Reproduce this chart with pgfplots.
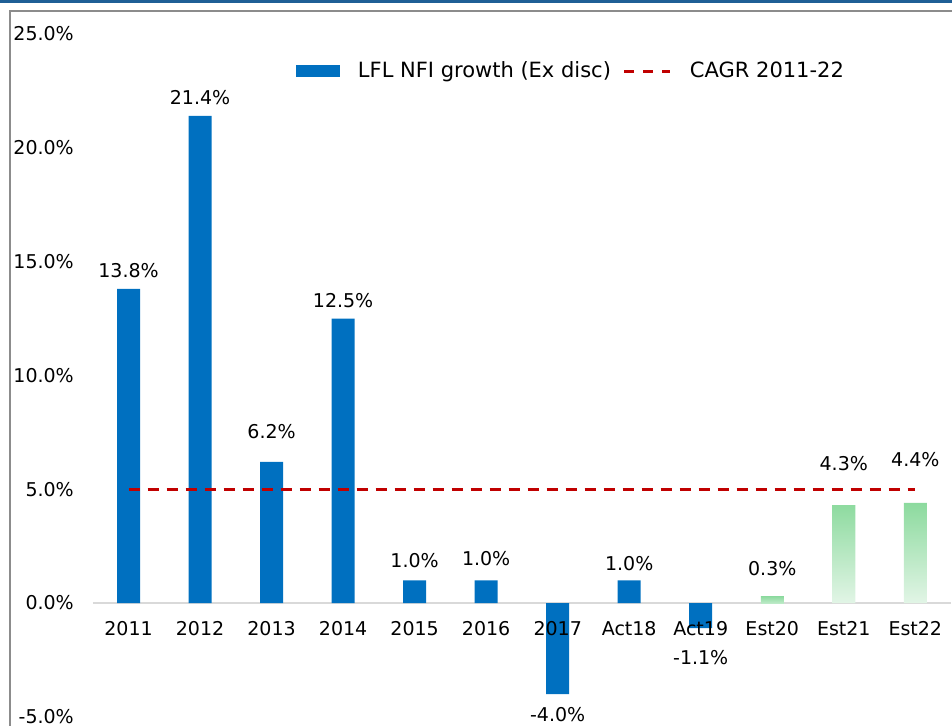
\documentclass[border=0pt]{standalone}
\usepackage{pgfplots}
\pgfplotsset{compat=1.18}
\usepackage{pgfplotstable}
\usetikzlibrary{calc}
\usepackage{fontspec}
\setmainfont{DejaVu Sans}
\definecolor{barblue}{HTML}{0070C0}
\definecolor{cagr}{HTML}{C00000}
\definecolor{gtop}{HTML}{8CDA9E}
\definecolor{gbot}{HTML}{E2F5E6}
\definecolor{gmid}{HTML}{BDEAC7}
\definecolor{framegray}{HTML}{8C8C8C}
\definecolor{zerogray}{HTML}{D9D9D9}
\definecolor{band}{HTML}{1F5F96}

\pgfplotstableread{
x y gap
0 13.8 11
1 21.4 11
2 6.2 23
3 12.5 11
4 1.0 12
5 1.0 14
6 -4.0 -12.7
7 1.0 9
8 -1.1 -22
}\actual
\pgfplotstableread{
x y gap
9 0.3 20
}\estsmall
\pgfplotstableread{
x y gap
10 4.3 34
11 4.4 35.7
}\est
\pgfplotstableread{
x y
0 5.0
1 5.0
2 5.0
3 5.0
4 5.0
5 5.0
6 5.0
7 5.0
8 5.0
9 5.0
10 5.0
11 5.0
}\cagrtab

\begin{document}
\fontsize{19bp}{23bp}\selectfont
\begin{tikzpicture}
\begin{axis}[
  scale only axis, width=942bp, height=715bp,
  xmin=-1.657, xmax=11.513, ymin=-5.40, ymax=26.01,
  axis x line=middle,
  axis line style={draw=none},
  axis on top,
  hide obscured x ticks=false, hide obscured y ticks=false,
  major tick length=0pt,
  clip=false,
  /pgf/number format/assume math mode=true,
  ytick={-5,0,5,10,15,20,25},
  yticklabel={\pgfmathprintnumber[fixed,fixed zerofill,precision=1]{\tick}\%},
  yticklabel style={anchor=east, inner sep=0pt, xshift=64bp},
  xtick={0,...,11},
  xticklabels={2011,2012,2013,2014,2015,2016,2017,Act18,Act19,Est20,Est21,Est22},
  xticklabel style={anchor=north, inner sep=0pt, yshift=-18.3bp},
  legend style={draw=none, fill=none, inner sep=0pt, outer sep=0pt,
    at={(0.3036,0.916)}, anchor=west, legend columns=2,
    font=\fontsize{21bp}{25bp}\selectfont,
    nodes={inner sep=0pt},
    /tikz/every odd column/.append style={column sep=18bp},
    /tikz/every even column/.append style={column sep=12bp}},
  nodes near coords align={vertical},
]
\coordinate (bl) at (rel axis cs:0,0);
\coordinate (tl) at (rel axis cs:0,1);
\coordinate (tr) at (rel axis cs:1,1);
\draw[zerogray, line width=1.5bp] (axis cs:-0.5,0) -- (axis cs:11.5,0);
\addplot[ybar, bar width=23bp, bar shift=0pt, fill=barblue, draw=none,
  visualization depends on={\thisrow{gap} \as \gap},
  nodes near coords={\pgfmathprintnumber[fixed,fixed zerofill,precision=1]{\pgfplotspointmeta}\%},
  every node near coord/.append style={inner sep=0pt, yshift=\gap bp, text=black},
  legend image code/.code={\fill[barblue] (0bp,-6bp) rectangle (44bp,6bp);}]
  table[x=x, y=y] {\actual};
\addlegendentry{LFL NFI growth (Ex disc)}
\addplot[ybar, bar width=23bp, bar shift=0pt, draw=none, top color=gtop, bottom color=gmid,
  visualization depends on={\thisrow{gap} \as \gap},
  nodes near coords={\pgfmathprintnumber[fixed,fixed zerofill,precision=1]{\pgfplotspointmeta}\%},
  every node near coord/.append style={inner sep=0pt, yshift=\gap bp, text=black},
  forget plot]
  table[x=x, y=y] {\estsmall};
\addplot[ybar, bar width=23bp, bar shift=0pt, draw=none, top color=gtop, bottom color=gbot,
  visualization depends on={\thisrow{gap} \as \gap},
  nodes near coords={\pgfmathprintnumber[fixed,fixed zerofill,precision=1]{\pgfplotspointmeta}\%},
  every node near coord/.append style={inner sep=0pt, yshift=\gap bp, text=black},
  forget plot]
  table[x=x, y=y] {\est};
\addplot[cagr, line width=3bp, dash pattern=on 11bp off 8bp, mark=none,
  legend image code/.code={\draw[cagr, line width=3bp, dash pattern=on 10bp off 9bp] (0bp,0bp) -- (46bp,0bp);}]
  table[x=x, y=y] {\cagrtab};
\addlegendentry{CAGR 2011-22}
\end{axis}
\pgfresetboundingbox
\path[use as bounding box] ($(bl)+(-10bp,0)$) rectangle ($(tr)+(0,11bp)$);
\fill[band] ($(tl)+(-10bp,7.7bp)$) rectangle ($(tr)+(0,11bp)$);
\draw[framegray, line width=1.3bp] (bl) -- (tl) -- (tr);
\end{tikzpicture}
\end{document}
